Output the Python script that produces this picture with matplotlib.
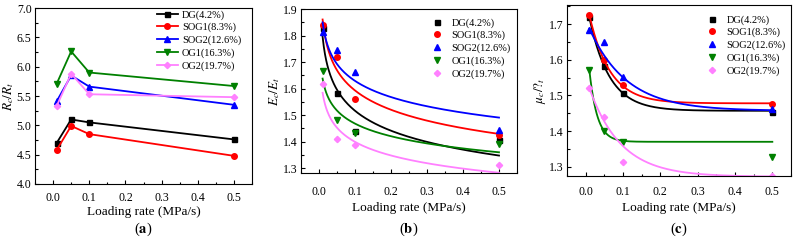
import numpy as np
import matplotlib
matplotlib.use("Agg")
import matplotlib.pyplot as plt
from matplotlib.ticker import MultipleLocator

plt.rcParams['font.family'] = ['Liberation Serif', 'DejaVu Serif']
plt.rcParams['mathtext.fontset'] = 'stix'

# data
rate = [0.01, 0.05, 0.1, 0.5]
names = ['DG(4.2%)', 'SOG1(8.3%)', 'SOG2(12.6%)', 'OG1(16.3%)', 'OG2(19.7%)']
colors = ['black', '#ff0000', '#0000ff', '#008000', '#ff80ff']
markers = ['s', 'o', '^', 'v', 'D']
msizes = [3.6, 4.0, 4.2, 4.2, 3.2]

# (a) Rc/Rt
ratio_R = [
    [4.70, 5.10, 5.05, 4.76],
    [4.58, 4.99, 4.85, 4.48],
    [5.41, 5.85, 5.66, 5.35],
    [5.71, 6.26, 5.90, 5.67],
    [5.33, 5.88, 5.53, 5.48],
]
# (b) Ec/Et
ratio_E = [
    [1.827, 1.582, 1.440, 1.405],
    [1.840, 1.718, 1.559, 1.425],
    [1.815, 1.746, 1.662, 1.444],
    [1.668, 1.480, 1.432, 1.393],
    [1.618, 1.410, 1.388, 1.312],
]
# power-law fits y = a * x^b
fit_E_a = [1.281, 1.364, 1.435, 1.316, 1.236]
fit_E_b = [-0.0733, -0.0674, -0.0551, -0.0475, -0.0539]

# (c) mu_c/mu_t
ratio_mu = [
    [1.720, 1.582, 1.507, 1.455],
    [1.726, 1.600, 1.529, 1.477],
    [1.684, 1.650, 1.552, 1.462],
    [1.572, 1.400, 1.370, 1.328],
    [1.520, 1.440, 1.314, 1.273],
]
# exponential decay fits y = y0 + A*exp(-x/t)
fit_mu_y0 = [1.457, 1.478, 1.457, 1.370, 1.272]
fit_mu_A = [0.314, 0.296, 0.255, 0.322, 0.279]
fit_mu_t = [0.054, 0.055, 0.100, 0.021, 0.085]

fig = plt.figure(figsize=(7.97, 2.42), dpi=100)
W, H = 797.0, 242.0


def box(l, r, t, b):
    return [l / W, 1 - b / H, (r - l) / W, (b - t) / H]


ax1 = fig.add_axes(box(35, 252, 8, 184))
ax2 = fig.add_axes(box(301, 517, 9, 173))
ax3 = fig.add_axes(box(567, 791, 5, 176))

for i in range(5):
    ax1.plot(rate, ratio_R[i], color=colors[i], marker=markers[i],
             ms=msizes[i], lw=1.3, label=names[i])

xs = np.linspace(0.01, 0.5, 300)
for i in range(5):
    ax2.plot(rate, ratio_E[i], ls='none', color=colors[i], marker=markers[i],
             ms=msizes[i], label=names[i])
    ax2.plot(xs, fit_E_a[i] * xs ** fit_E_b[i], color=colors[i], lw=1.3)

for i in range(5):
    ax3.plot(rate, ratio_mu[i], ls='none', color=colors[i], marker=markers[i],
             ms=msizes[i], label=names[i])
    ax3.plot(xs, fit_mu_y0[i] + fit_mu_A[i] * np.exp(-xs / fit_mu_t[i]),
             color=colors[i], lw=1.3)

ax1.set_ylim(4.0, 7.0)
ax1.yaxis.set_major_locator(MultipleLocator(0.5))
ax1.yaxis.set_minor_locator(MultipleLocator(0.25))
ax1.set_ylabel(r'$R_c/R_t$', fontsize=9.5, labelpad=0.5)

ax2.set_ylim(1.282, 1.9)
ax2.yaxis.set_major_locator(MultipleLocator(0.1))
ax2.yaxis.set_minor_locator(MultipleLocator(0.05))
ax2.set_ylabel(r'$E_c/E_t$', fontsize=9.5, labelpad=0.5)

ax3.set_ylim(1.274, 1.754)
ax3.yaxis.set_major_locator(MultipleLocator(0.1))
ax3.yaxis.set_minor_locator(MultipleLocator(0.05))
ax3.set_ylabel(r'$\mu_c/?_t$', fontsize=9.5, labelpad=0.5)

xpads = [6.0, 9.5, 7.5]
leg_pos = [(157, 10), (432, 18), (707, 15)]
for k, (ax, tag) in enumerate([(ax1, 'a'), (ax2, 'b'), (ax3, 'c')]):
    ax.set_xlim(-0.05, 0.55)
    ax.xaxis.set_major_locator(MultipleLocator(0.1))
    ax.xaxis.set_minor_locator(MultipleLocator(0.05))
    ax.tick_params(which='both', direction='in', labelsize=8.5, width=0.8)
    ax.tick_params(which='major', length=3)
    ax.tick_params(which='minor', length=1.8)
    ax.tick_params(axis='x', which='major', pad=xpads[k])
    ax.tick_params(axis='y', which='major', pad=2.5)
    ax.set_xlabel('Loading rate (MPa/s)', fontsize=9.5,
                  labelpad=1 if k == 0 else 2.5)
    for s in ax.spines.values():
        s.set_linewidth(0.8)
    lx, ly = leg_pos[k]
    ax.legend(loc='upper left', bbox_to_anchor=(lx / W, 1 - ly / H),
              bbox_transform=fig.transFigure, frameon=False, fontsize=7.5,
              labelspacing=0.3, borderpad=0, borderaxespad=0,
              handlelength=2.0 if k == 0 else 1.0,
              handletextpad=0.4 if k == 0 else 0.85)
    cx = (ax.get_position().x0 + ax.get_position().x1) / 2
    fig.text(cx, 1 - 229 / H, '($\\mathbf{' + tag + '}$)', ha='center',
             va='center', fontsize=10.5)

fig.savefig('out.png', dpi=100)
